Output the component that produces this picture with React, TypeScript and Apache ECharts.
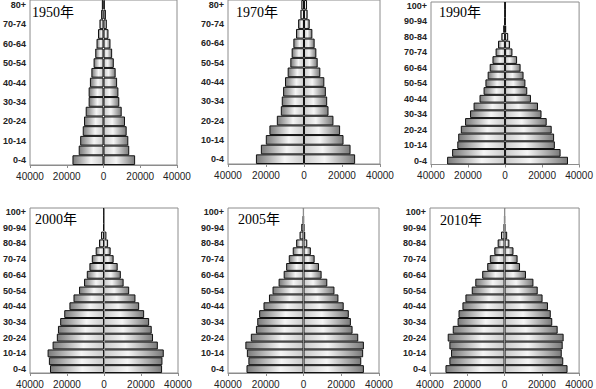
import React, { useEffect, useRef } from "react";
import * as echarts from "echarts";

const AGES17 = ["0-4","5-9","10-14","15-19","20-24","25-29","30-34","35-39","40-44","45-49","50-54","55-59","60-64","65-69","70-74","75-79","80+"];
const AGES21 = ["0-4","5-9","10-14","15-19","20-24","25-29","30-34","35-39","40-44","45-49","50-54","55-59","60-64","65-69","70-74","75-79","80-84","85-89","90-94","95-99","100+"];

const TITLES = ["1950年", "1970年", "1990年", "2000年", "2005年", "2010年"];

const LEFT_1950 = [16900,13500,12700,11300,10600,9700,8100,8100,7400,6600,5400,4500,3800,3000,2200,1300,900];
const RIGHT_1950 = [17200,14000,13500,12600,11700,9900,8600,8100,7400,6600,5600,4700,3800,2700,1800,1300,700];

const LEFT_1970 = [25300,22700,20100,18200,14300,12200,11700,11000,10000,8600,7200,6500,5600,4200,3100,1900,1400];
const RIGHT_1970 = [26900,24500,20800,19000,15500,12900,12200,11500,10700,8600,7200,6500,5600,4400,3000,1900,1600];

const LEFT_1990 = [31300,28600,25800,25300,23900,21600,18900,17000,13800,11600,10600,9400,8300,6800,5100,3800,2000,1000,300,100,50];
const RIGHT_1990 = [34000,30000,26900,26500,25200,22500,19700,17800,14000,12000,11000,10000,8400,6500,4000,2700,1700,600,200,100,50];

const LEFT_2000 = [29200,29800,30500,27800,25500,24900,23700,21500,18700,16500,13500,10800,9300,7900,6600,4500,2700,1600,500,100,30];
const RIGHT_2000 = [31400,31600,32300,29100,26500,25800,24400,21700,19000,17000,13600,10600,9100,7400,5200,3600,2200,1300,500,100,30];

const LEFT_2005 = [30200,29200,30000,30800,27900,25200,24500,23500,21200,18300,16400,13200,10500,9200,7800,5700,3900,2100,1200,300,50];
const RIGHT_2005 = [32000,30600,31600,32000,29000,26000,25100,24000,21300,18500,16400,12600,9600,8200,5900,3900,2000,900,400,100,30];

const LEFT_2010 = [31700,29600,28700,29600,30500,27800,25200,24700,22600,21000,17600,15700,12000,9300,7900,5500,3700,1900,400,100,30];
const RIGHT_2010 = [33800,31500,30700,31200,31700,28500,25600,24800,23300,20400,17800,15500,11500,8300,7000,4800,2600,1400,300,100,30];

const PANELS = [
  { ages: AGES17, left: LEFT_1950, right: RIGHT_1950 },
  { ages: AGES17, left: LEFT_1970, right: RIGHT_1970 },
  { ages: AGES21, left: LEFT_1990, right: RIGHT_1990 },
  { ages: AGES21, left: LEFT_2000, right: RIGHT_2000 },
  { ages: AGES21, left: LEFT_2005, right: RIGHT_2005 },
  { ages: AGES21, left: LEFT_2010, right: RIGHT_2010 },
];

const GRIDS = [
  { left: 28, top: 0, width: 149, height: 165 },
  { left: 228, top: 0, width: 152, height: 164 },
  { left: 431, top: 2, width: 151, height: 162.5 },
  { left: 29, top: 208, width: 149, height: 166 },
  { left: 228, top: 208, width: 151, height: 166 },
  { left: 430, top: 208, width: 152, height: 166 },
];

const TITLE_POS = [
  [32, 5], [236, 5], [439, 5], [35, 212], [238, 212], [440, 213],
];

export default function App() {
  const ref = useRef<HTMLDivElement>(null);
  useEffect(() => {
    if (!ref.current) return;
    const chart = echarts.init(ref.current, null, { renderer: "svg" });
    const gradL = new echarts.graphic.LinearGradient(0, 0, 1, 0, [
      { offset: 0, color: "#7a7a7a" },
      { offset: 0.6, color: "#f5f5f5" },
      { offset: 1, color: "#cccccc" },
    ]);
    const gradR = new echarts.graphic.LinearGradient(0, 0, 1, 0, [
      { offset: 0, color: "#cccccc" },
      { offset: 0.4, color: "#f5f5f5" },
      { offset: 1, color: "#7a7a7a" },
    ]);
    const grid = GRIDS.map((g) => ({
      ...g,
      show: true,
      borderColor: "#8c8c8c",
      borderWidth: 1,
      backgroundColor: "transparent",
    }));
    const xAxis = PANELS.map((_, i) => ({
      type: "value",
      gridIndex: i,
      min: -40000,
      max: 40000,
      interval: 20000,
      axisLine: { show: true, onZero: false, lineStyle: { color: "#8c8c8c" } },
      axisTick: { show: true, length: 3, lineStyle: { color: "#8c8c8c" } },
      splitLine: { show: false },
      axisLabel: {
        formatter: (v: number) => String(Math.abs(v)),
        fontSize: 10,
        color: "#222",
        fontFamily: "Liberation Sans, Arial, sans-serif",
        margin: 6,
        hideOverlap: false,
      },
    }));
    const yAxis = PANELS.map((p, i) => ({
      type: "category",
      gridIndex: i,
      data: p.ages,
      axisLine: { show: false },
      axisTick: { show: false },
      axisLabel: {
        interval: 1,
        fontSize: 9,
        fontWeight: "bold",
        color: "#222",
        fontFamily: "Liberation Sans, Arial, sans-serif",
        margin: 4,
      },
    }));
    const series: any[] = [];
    PANELS.forEach((p, i) => {
      series.push({
        type: "bar",
        xAxisIndex: i,
        yAxisIndex: i,
        stack: "s" + i,
        barCategoryGap: "0%",
        data: p.left.map((v) => -v),
        itemStyle: { color: gradL, borderColor: "#111", borderWidth: 1 },
      });
      const s: any = {
        type: "bar",
        xAxisIndex: i,
        yAxisIndex: i,
        stack: "s" + i,
        barCategoryGap: "0%",
        data: p.right,
        itemStyle: { color: gradR, borderColor: "#111", borderWidth: 1 },
      };
      if (i >= 3) {
        s.markLine = {
          silent: true,
          symbol: "none",
          label: { show: false },
          lineStyle: { color: "#8c8c8c", width: 1, type: "solid" },
          data: [{ xAxis: 0 }],
        };
      }
      series.push(s);
    });
    const graphic = TITLES.map((t, i) => ({
      type: "text",
      left: TITLE_POS[i][0],
      top: TITLE_POS[i][1],
      z: 10,
      style: {
        text: t,
        fontSize: 14,
        fill: "#000",
        fontFamily: "Liberation Serif, Noto Sans CJK SC, serif",
      },
    }));
    chart.setOption({
      animation: false,
      backgroundColor: "#fff",
      grid,
      xAxis,
      yAxis,
      series,
      graphic,
    });
    return () => chart.dispose();
  }, []);
  return (
    <div
      ref={ref}
      style={{ position: "absolute", left: 0, top: 0, width: 596, height: 389 }}
    />
  );
}
